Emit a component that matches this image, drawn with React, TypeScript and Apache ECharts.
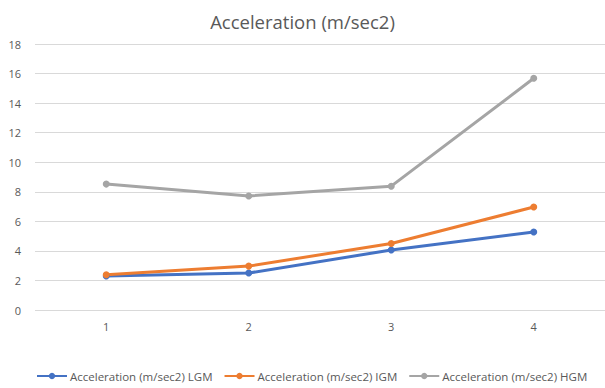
import React, { useEffect, useRef } from "react";
import * as echarts from "echarts";

const categories = ["1", "2", "3", "4"];
const lgm = [2.3, 2.5, 4.06, 5.28];
const igm = [2.38, 2.97, 4.5, 6.97];
const hgm = [8.52, 7.72, 8.38, 15.68];
const seriesNames = [
  "Acceleration (m/sec2) LGM",
  "Acceleration (m/sec2) IGM",
  "Acceleration (m/sec2) HGM",
];
const colors = ["#4472C4", "#ED7D31", "#A5A5A5"];

const FONT = "'Open Sans', sans-serif";

export default function App() {
  const ref = useRef<HTMLDivElement>(null);
  useEffect(() => {
    if (!ref.current) return;
    const chart = echarts.init(ref.current, undefined, { renderer: "svg" });
    const mk = (name: string, data: number[], color: string) => ({
      name,
      type: "line",
      data,
      symbol: "circle",
      symbolSize: 7,
      lineStyle: { width: 3, color },
      itemStyle: { color },
    });
    chart.setOption({
      animation: false,
      backgroundColor: "#ffffff",
      title: {
        text: "Acceleration (m/sec2)",
        left: "center",
        top: 7,
        textStyle: {
          fontFamily: FONT,
          fontSize: 18.5,
          fontWeight: "normal",
          color: "#595959",
        },
      },
      legend: {
        top: 370,
        left: 36,
        padding: 0,
        itemWidth: 30,
        itemHeight: 8,
        itemGap: 11,
        textStyle: { fontFamily: FONT, fontSize: 11.5, color: "#595959", padding: [0, 0, 0, -2] },
        data: seriesNames,
      },
      grid: { left: 35, right: 0, top: 44, bottom: 78 },
      xAxis: {
        type: "category",
        data: categories,
        boundaryGap: true,
        axisLine: { show: false },
        axisTick: { show: false },
        axisLabel: { fontFamily: FONT, fontSize: 11, color: "#595959", margin: 11 },
      },
      yAxis: {
        type: "value",
        min: 0,
        max: 18,
        interval: 2,
        axisLine: { show: false },
        axisTick: { show: false },
        splitLine: { lineStyle: { color: "#D9D9D9", width: 1 } },
        axisLabel: { fontFamily: FONT, fontSize: 11, color: "#595959", margin: 14 },
      },
      series: [
        mk(seriesNames[0], lgm, colors[0]),
        mk(seriesNames[1], igm, colors[1]),
        mk(seriesNames[2], hgm, colors[2]),
      ],
    });
    return () => chart.dispose();
  }, []);
  return <div ref={ref} style={{ width: 605, height: 388, position: "absolute", left: 0, top: 0 }} />;
}
